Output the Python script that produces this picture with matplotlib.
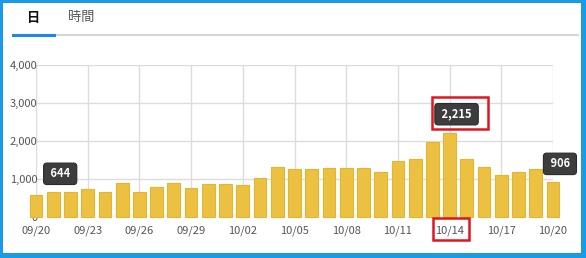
import matplotlib
matplotlib.use('Agg')
import matplotlib.pyplot as plt
from matplotlib.patches import Rectangle
from matplotlib.lines import Line2D

plt.rcParams['font.family'] = ['Noto Sans CJK JP', 'DejaVu Sans']

# daily page views 09/20 - 10/20
DAYS = ['09/20', '09/21', '09/22', '09/23', '09/24', '09/25', '09/26', '09/27',
        '09/28', '09/29', '09/30', '10/01', '10/02', '10/03', '10/04', '10/05',
        '10/06', '10/07', '10/08', '10/09', '10/10', '10/11', '10/12', '10/13',
        '10/14', '10/15', '10/16', '10/17', '10/18', '10/19', '10/20']
VIEWS = [580, 644, 650, 737, 649, 886, 649, 781, 895, 754, 851, 860, 842, 1026,
         1298, 1263, 1263, 1289, 1289, 1289, 1184, 1456, 1526, 1982, 2215, 1509,
         1316, 1105, 1167, 1263, 906]
TICK_DAYS = ['09/20', '09/23', '09/26', '09/29', '10/02', '10/05', '10/08',
             '10/11', '10/14', '10/17', '10/20']
Y_TICKS = [0, 1000, 2000, 3000, 4000]
TOOLTIP_DAYS = ['09/21', '10/14', '10/20']
HIGHLIGHT_DAY = '10/14'
TABS = ['日', '時間']

W, H = 586, 258

fig = plt.figure(figsize=(W / 100, H / 100), dpi=100)
fig.patch.set_facecolor('#1b9be4')
fig.add_artist(Rectangle((3 / W, 5 / H), 578 / W, 250 / H, transform=fig.transFigure,
                         facecolor='white', edgecolor='none', zorder=0))

# tab header
fig.text(34 / W, 1 - 18 / H, TABS[0], ha='center', va='center', fontsize=9.5,
         color='#111111', fontweight='bold')
fig.text(81 / W, 1 - 18 / H, TABS[1], ha='center', va='center', fontsize=9.5,
         color='#555555')
fig.add_artist(Line2D([54 / W, 578 / W], [1 - 35 / H] * 2, color='#d6d6d6', lw=1.5))
fig.add_artist(Line2D([13 / W, 54 / W], [1 - 35 / H] * 2, color='#1e88e5', lw=2.2))

ax = fig.add_axes([36 / W, (H - 216.7) / H, 517 / W, 151.7 / H])
ax.set_facecolor('none')
x = list(range(len(DAYS)))
ax.bar(x, VIEWS, width=0.74, color='#ecc142', edgecolor='#e4b62d', linewidth=0.8,
       clip_on=False, zorder=2)
ax.set_xlim(0, len(DAYS) - 1)
ax.set_ylim(Y_TICKS[0], Y_TICKS[-1])
ax.set_xticks([DAYS.index(d) for d in TICK_DAYS])
ax.set_xticklabels(TICK_DAYS)
ax.set_yticks(Y_TICKS)
ax.set_yticklabels(['{:,}'.format(v) for v in Y_TICKS])
ax.grid(True, color='#dcdcdc', linewidth=1)
ax.set_axisbelow(True)
for s in ax.spines.values():
    s.set_visible(False)
ax.tick_params(length=0, labelsize=8, labelcolor='#555555')
ax.tick_params(axis='x', pad=6)
ax.tick_params(axis='y', pad=-1)

# tooltips
for d in TOOLTIP_DAYS:
    i = DAYS.index(d)
    v = VIEWS[i]
    ax.annotate(' {:,} '.format(v), xy=(i, v), xytext=(5, 13.3),
                textcoords='offset points', ha='center', va='center',
                color='white', fontsize=8, fontweight='bold',
                annotation_clip=False, zorder=5,
                bbox=dict(boxstyle='round,pad=0.38,rounding_size=0.3',
                          fc='#3d3d3d', ec='#2a2a2a', lw=0.8))

# red highlight boxes
hi = DAYS.index(HIGHLIGHT_DAY)
px, py = ax.transData.transform((hi, VIEWS[hi]))
# around the tooltip
cx, cy = px + 10, py + 19.5
fig.add_artist(Rectangle(((cx - 28) / W, (cy - 16) / H), 56 / W, 32 / H,
                         transform=fig.transFigure, fill=False,
                         edgecolor='#e0161e', lw=1.8, zorder=6))
# around the tick label
bx, by = ax.transData.transform((hi, 0))
fig.add_artist(Rectangle(((bx - 17) / W, (by - 23.5) / H), 36 / W, 22 / H,
                         transform=fig.transFigure, fill=False,
                         edgecolor='#e0161e', lw=1.8, zorder=6))

fig.savefig('out.png', dpi=100)
